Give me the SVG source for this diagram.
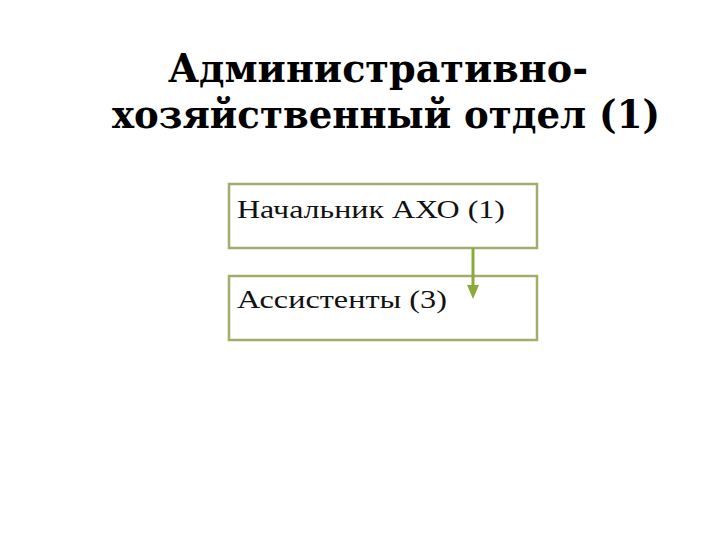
<svg xmlns="http://www.w3.org/2000/svg" width="720" height="540" viewBox="0 0 720 540">
<style>
.title{font-family:"DejaVu Serif","Liberation Serif",serif;font-weight:bold;font-size:39px;fill:#000}
.box{fill:#fff;stroke:#a3ac6c;stroke-width:2.5}
.lbl{font-family:"Liberation Serif","DejaVu Serif",serif;font-size:26px;fill:#111}
.conn{stroke:#8aab3c;stroke-width:3;fill:none}
</style>
<defs>
<marker id="ah" markerWidth="14" markerHeight="14" refX="7" refY="7" orient="auto" markerUnits="userSpaceOnUse" viewBox="0 0 14 14">
<path d="M0,1 L14,7 L0,13 Z" fill="#8aab3c"/>
</marker>
</defs>
<rect width="720" height="540" fill="#fff"/>
<g id="title">
<text class="title" x="168" y="82" textLength="420" lengthAdjust="spacingAndGlyphs">Административно-</text>
<text class="title" x="112" y="128" textLength="548" lengthAdjust="spacingAndGlyphs">хозяйственный отдел (1)</text>
</g>
<g id="node1">
<rect class="box" x="229" y="184" width="308" height="64"/>
<text class="lbl" x="237" y="218" textLength="268" lengthAdjust="spacingAndGlyphs">Начальник АХО (1)</text>
</g>
<g id="node2">
<rect class="box" x="229" y="276" width="308" height="64"/>
<text class="lbl" x="237" y="308" textLength="210" lengthAdjust="spacingAndGlyphs">Ассистенты (3)</text>
</g>
<g id="connectors">
<line class="conn" x1="473" y1="248" x2="473" y2="292" marker-end="url(#ah)"/>
</g>
</svg>
